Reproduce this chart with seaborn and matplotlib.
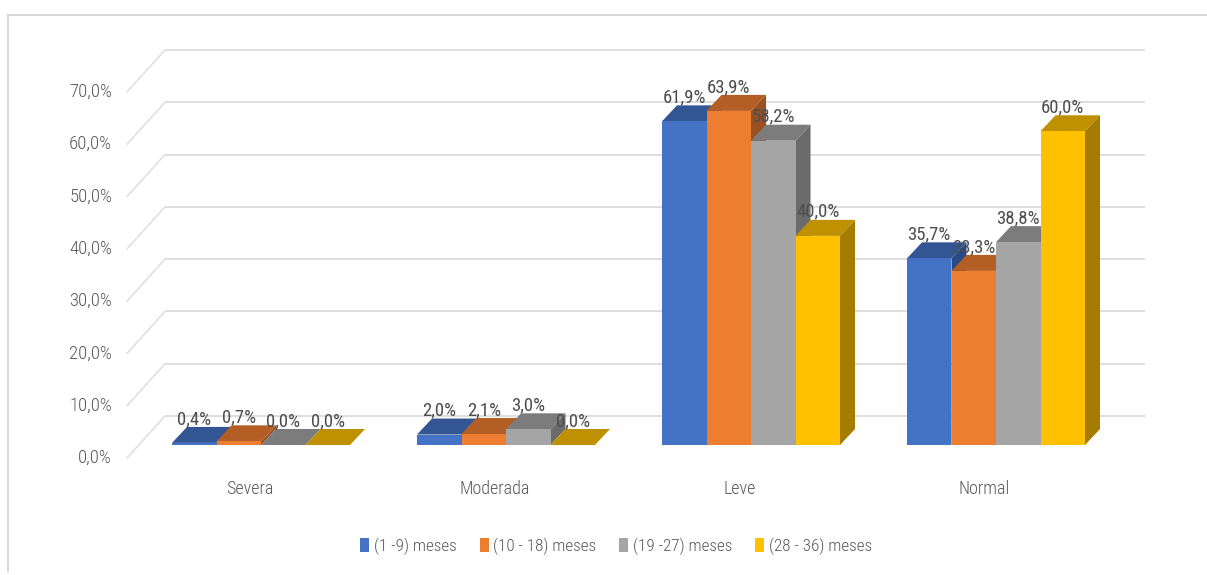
import matplotlib
matplotlib.use("Agg")
import matplotlib.pyplot as plt
from matplotlib.collections import PolyCollection
from matplotlib.lines import Line2D
from matplotlib.transforms import Affine2D, IdentityTransform, ScaledTranslation
import pandas as pd
import seaborn as sns

# Porcentaje por categoría y grupo de edad
categories = ["Severa", "Moderada", "Leve", "Normal"]
age_groups = ["(1 -9) meses", "(10 - 18) meses", "(19 -27) meses", "(28 - 36) meses"]
group_1_9 = [0.4, 2.0, 61.9, 35.7]
group_10_18 = [0.7, 2.1, 63.9, 33.3]
group_19_27 = [0.0, 3.0, 58.2, 38.8]
group_28_36 = [0.0, 0.0, 40.0, 60.0]
y_ticks = [0, 10, 20, 30, 40, 50, 60, 70]

front_colors = ["#4472C4", "#ED7D31", "#A5A5A5", "#FFC000"]
top_colors = ["#335594", "#B35E24", "#7C7C7C", "#BF9000"]
side_colors = ["#2A4A85", "#9A5020", "#6B6B6B", "#A67C00"]
grid_color = "#DEDEDE"

sns.set_theme(style="white")
plt.rcParams["font.family"] = ["Roboto Condensed", "DejaVu Sans"]
plt.rcParams["font.weight"] = 300

W, H = 1207, 575
fig = plt.figure(figsize=(W / 100, H / 100), dpi=100)
ax = fig.add_axes([138.5 / W, (H - 445) / H, 980 / W, 366 / H])

frame = pd.DataFrame({
    "categoria": categories * 4,
    "grupo": [g for g in age_groups for _ in categories],
    "valor": group_1_9 + group_10_18 + group_19_27 + group_28_36,
})
sns.barplot(
    data=frame, x="categoria", y="valor", hue="grupo", order=categories, hue_order=age_groups,
    palette=front_colors, saturation=1, width=178 / 245, linewidth=0, ax=ax, zorder=5,
)
ax.set_xlim(-0.5, 3.5)
ax.set_ylim(0, 70)
ax.set_xlabel("")
ax.set_ylabel("")
sns.despine(ax=ax, left=True, bottom=True)

# Pared del fondo: líneas de cuadrícula desplazadas y diagonales hacia el frente
wall = ax.transData + Affine2D().translate(26.5, 29)
depth_x, depth_y = 15, 16
for tick in y_ticks:
    ax.plot([-0.5, 3.5], [tick, tick], color=grid_color, lw=1.4, transform=wall,
            clip_on=False, zorder=1, solid_capstyle="butt")
    (bx, by) = wall.transform((-0.5, tick))
    ax.add_line(Line2D([bx, bx - 38], [by, by - 42], color=grid_color, lw=1.1,
                       transform=IdentityTransform(), clip_on=False, zorder=1))

# Caras superior y lateral de cada barra, de izquierda a derecha
series_by_pos = []
for color_idx, container in enumerate(ax.containers):
    for cat_idx, bar in enumerate(container):
        series_by_pos.append((bar.get_x(), color_idx, bar))
series_by_pos.sort(key=lambda item: item[0])

for order, (_, color_idx, bar) in enumerate(series_by_pos):
    x0, x1 = bar.get_x(), bar.get_x() + bar.get_width()
    h = bar.get_height()
    (px0, py0), (px1, py1) = ax.transData.transform([(x0, 0), (x1, h)])
    top = [(px0, py1), (px1, py1), (px1 + depth_x, py1 + depth_y), (px0 + depth_x, py1 + depth_y)]
    side = [(px1, py0), (px1, py1), (px1 + depth_x, py1 + depth_y), (px1 + depth_x, py0 + depth_y)]
    z = 2 + order * 0.1
    ax.add_collection(PolyCollection([side], facecolors=side_colors[color_idx], edgecolors="none",
                                     transform=IdentityTransform(), clip_on=False, zorder=z))
    ax.add_collection(PolyCollection([top], facecolors=top_colors[color_idx], edgecolors="none",
                                     transform=IdentityTransform(), clip_on=False, zorder=z + 0.01))
    bar.set_zorder(z + 0.02)
    ax.annotate(f"{h:.1f}%".replace(".", ","), xy=((x0 + x1) / 2, h),
                xytext=(0, (depth_y + 8) * 0.72), textcoords="offset points",
                ha="center", va="center", fontsize=13.5, color="#4D4D4D", fontweight=400,
                annotation_clip=False, zorder=20)

# Ejes
ax.set_yticks(y_ticks)
ax.set_yticklabels([f"{t:.1f}%".replace(".", ",") for t in y_ticks], fontsize=13.5, color="#595959")
ax.set_xticks(range(len(categories)))
ax.set_xticklabels(categories, fontsize=13, color="#595959")
ax.tick_params(axis="both", length=0)
ax.tick_params(axis="y", pad=19)
ax.tick_params(axis="x", pad=25)
for label in ax.get_yticklabels():
    label.set_transform(label.get_transform() + ScaledTranslation(0, -11 / 100, fig.dpi_scale_trans))
for label in ax.get_xticklabels():
    label.set_transform(label.get_transform() + ScaledTranslation(-11.5 / 100, 0, fig.dpi_scale_trans))

# Leyenda inferior
sns.move_legend(
    ax, "center", bbox_to_anchor=(616 / W, (H - 546) / H), bbox_transform=fig.transFigure,
    ncol=4, title=None, frameon=False, fontsize=12.3, labelcolor="#595959",
    handlelength=0.54, handleheight=0.85, handletextpad=0.25, columnspacing=1.35,
)

# Marco del gráfico: solo borde superior e izquierdo
for xs, ys in [([8, W], [H - 15, H - 15]), ([8, 8], [H - 15, 4])]:
    fig.add_artist(Line2D(xs, ys, color="#D9D9D9", lw=1.5, transform=IdentityTransform()))

fig.savefig("out.png", dpi=100)
